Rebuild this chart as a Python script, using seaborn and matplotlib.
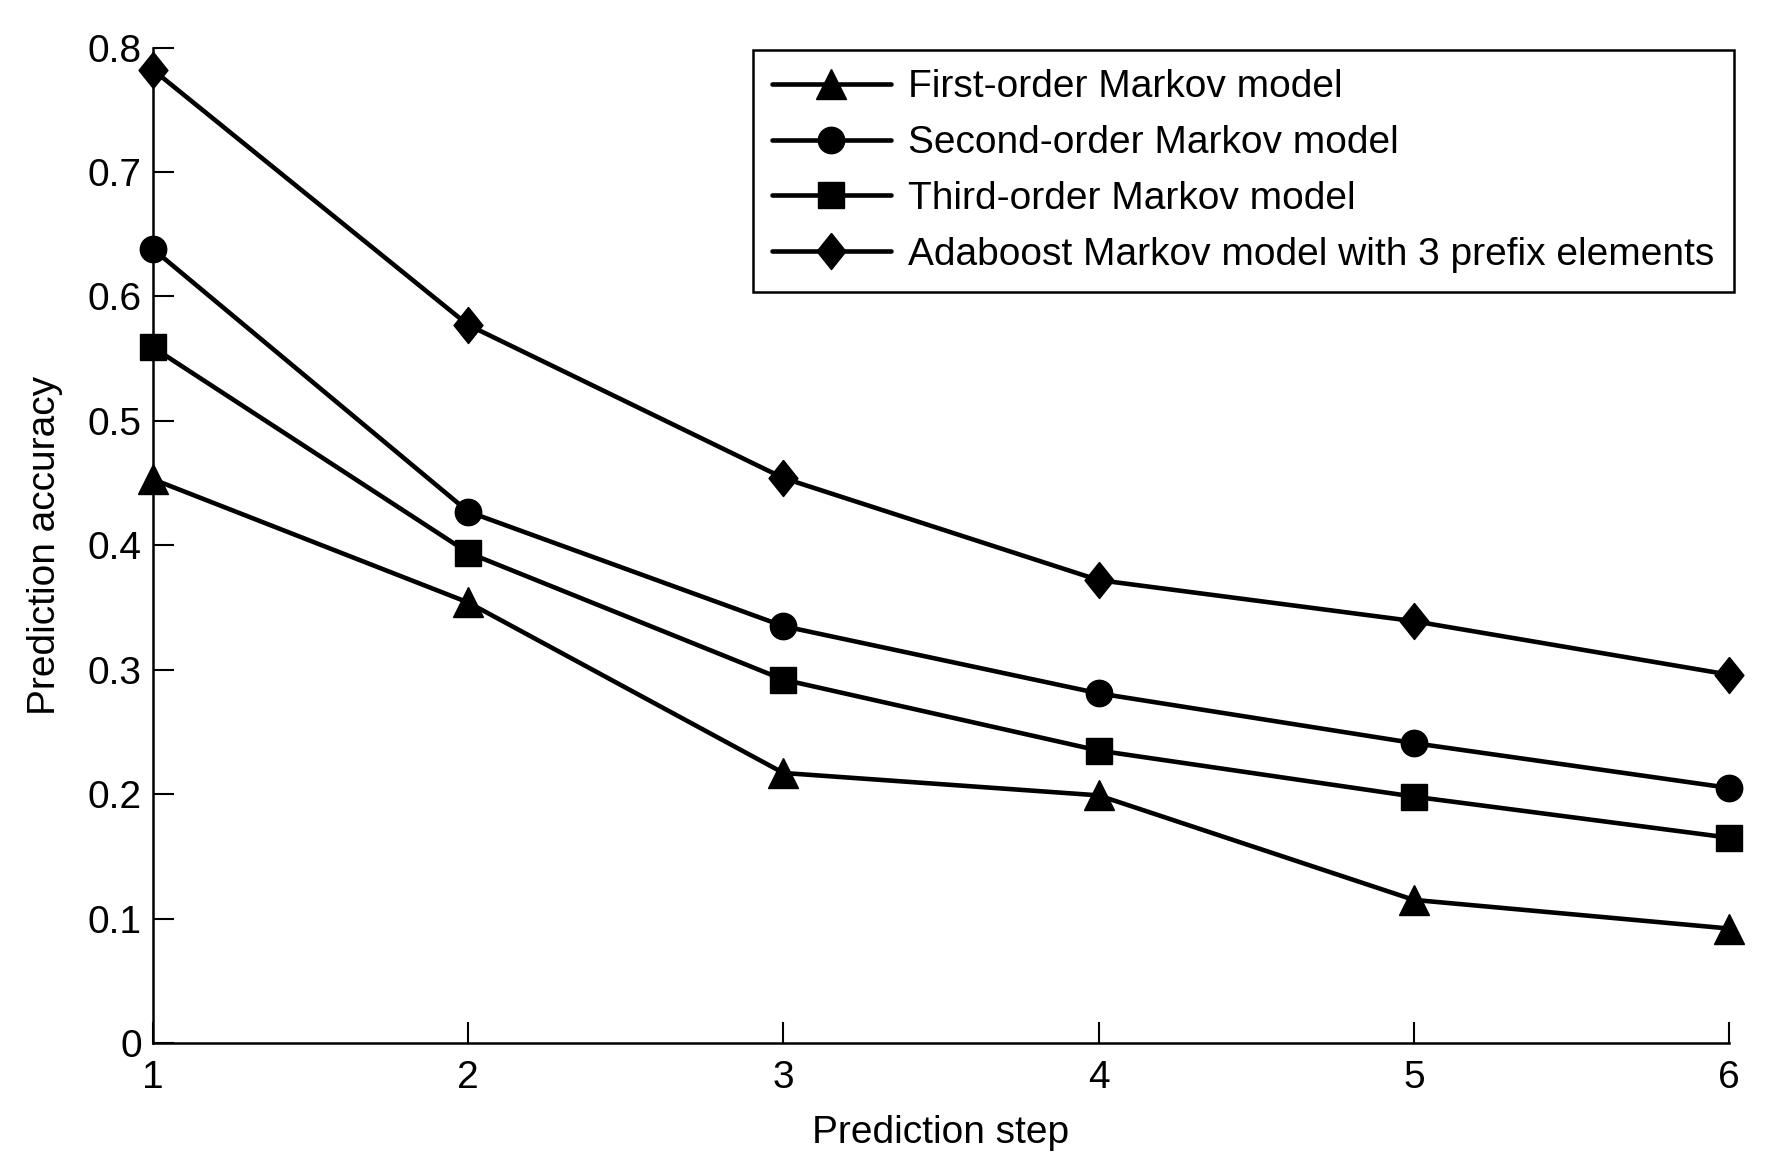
import matplotlib
matplotlib.use("Agg")
import matplotlib.pyplot as plt
import seaborn as sns
import pandas as pd

steps = [1, 2, 3, 4, 5, 6]
first_order = [0.453, 0.354, 0.217, 0.199, 0.115, 0.092]
second_order = [0.638, 0.427, 0.335, 0.281, 0.241, 0.205]
third_order = [0.559, 0.394, 0.292, 0.235, 0.198, 0.165]
adaboost = [0.782, 0.577, 0.454, 0.372, 0.339, 0.296]

labels = [
    "First-order Markov model",
    "Second-order Markov model",
    "Third-order Markov model",
    "Adaboost Markov model with 3 prefix elements",
]
xticks = [1, 2, 3, 4, 5, 6]
yticks = [0, 0.1, 0.2, 0.3, 0.4, 0.5, 0.6, 0.7, 0.8]
ytick_labels = ["0", "0.1", "0.2", "0.3", "0.4", "0.5", "0.6", "0.7", "0.8"]

sns.set_theme(style="ticks")
plt.rcParams["font.family"] = ["Liberation Sans", "DejaVu Sans"]

FS = 28
fig = plt.figure(figsize=(17.74, 11.71), dpi=100)
ax = fig.add_axes([153 / 1774, 1 - 1043 / 1171, (1729 - 153) / 1774, (1043 - 47.5) / 1171])

diamond = [(0, 1), (0.8, 0), (0, -1), (-0.8, 0), (0, 1)]
series = [first_order, second_order, third_order, adaboost]
markers = ["^", "o", "s", diamond]
sizes = [21, 19, 19, 26]

for vals, lab, mk, ms in zip(series, labels, markers, sizes):
    df = pd.DataFrame({"step": steps, "acc": vals})
    sns.lineplot(data=df, x="step", y="acc", ax=ax, color="black", lw=3.3,
                 marker=mk, markersize=ms, markeredgecolor="black",
                 markerfacecolor="black", markeredgewidth=1, label=lab,
                 clip_on=False)

ax.set_xlim(1, 6)
ax.set_ylim(0, 0.8)
ax.set_xticks(xticks)
ax.set_xticklabels([str(x) for x in xticks])
ax.set_yticks(yticks)
ax.set_yticklabels(ytick_labels)
ax.tick_params(direction="in", length=15, width=1.5, labelsize=FS, colors="black")
ax.tick_params(axis="x", pad=12)
ax.tick_params(axis="y", pad=8)
for s in ["top", "right"]:
    ax.spines[s].set_visible(False)
for s in ["left", "bottom"]:
    ax.spines[s].set_color("black")
    ax.spines[s].set_linewidth(1.8)

ax.set_xlabel("Prediction step", fontsize=FS, color="black", labelpad=14)
ax.set_ylabel("Prediction accuracy", fontsize=FS, color="black", labelpad=18)

leg = ax.legend(loc="upper right", bbox_to_anchor=(1734 / 1774, 1 - 50 / 1171),
                bbox_transform=fig.transFigure, borderaxespad=0, fontsize=FS,
                frameon=True, fancybox=False, framealpha=1, edgecolor="black",
                handlelength=3.05, handletextpad=0.45, borderpad=0.5,
                labelspacing=0.51)
leg.get_frame().set_linewidth(1.8)
for t in leg.get_texts():
    t.set_color("black")

fig.savefig("out.png", dpi=100, facecolor="white")
